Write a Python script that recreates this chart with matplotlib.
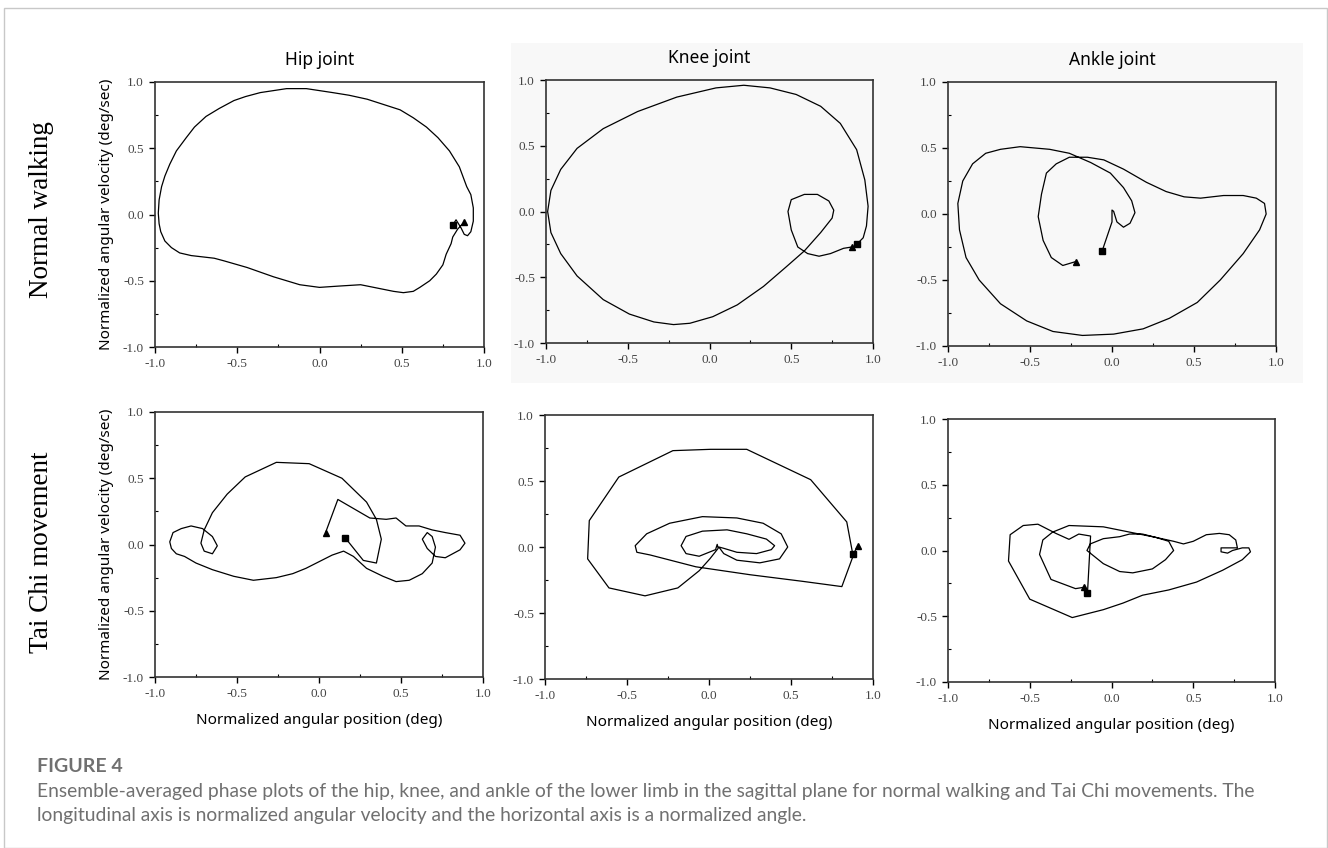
import matplotlib
matplotlib.use("Agg")
import matplotlib.pyplot as plt
from matplotlib.patches import Rectangle
from matplotlib.ticker import MultipleLocator

# Phase-plot traces (normalized angle, normalized angular velocity)
hip_walk_x = [0.81, 0.83, 0.86, 0.88, 0.90, 0.92, 0.935, 0.935, 0.92, 0.895, 0.85, 0.79, 0.72, 0.65, 0.57,
              0.49, 0.39, 0.29, 0.18, 0.08, -0.08, -0.20, -0.36, -0.45, -0.52, -0.61, -0.69, -0.76, -0.81,
              -0.87, -0.91, -0.94, -0.96, -0.975, -0.98, -0.975, -0.965, -0.94, -0.90, -0.85, -0.78, -0.71,
              -0.64, -0.58, -0.44, -0.28, -0.12, 0.0, 0.12, 0.25, 0.37, 0.45, 0.51, 0.57, 0.61, 0.67, 0.71, 0.75,
              0.77, 0.80, 0.81, 0.84, 0.87, 0.88]
hip_walk_y = [-0.08, -0.04, -0.10, -0.15, -0.16, -0.13, -0.05, 0.05, 0.15, 0.21, 0.36, 0.48, 0.58, 0.66, 0.73,
              0.79, 0.83, 0.87, 0.90, 0.92, 0.95, 0.95, 0.92, 0.89, 0.86, 0.80, 0.74, 0.66, 0.58,
              0.48, 0.38, 0.29, 0.21, 0.11, 0.01, -0.07, -0.13, -0.20, -0.25, -0.29, -0.31, -0.32,
              -0.33, -0.35, -0.40, -0.47, -0.53, -0.55, -0.54, -0.53, -0.56, -0.58, -0.59, -0.58, -0.55, -0.50, -0.45,
              -0.38, -0.30, -0.22, -0.17, -0.11, -0.07, -0.06]

knee_walk_x = [0.90, 0.94, 0.96, 0.97, 0.95, 0.90, 0.80, 0.68, 0.53, 0.37, 0.21, 0.04, -0.20, -0.44, -0.65,
               -0.81, -0.91, -0.97, -0.99, -0.97, -0.91, -0.81, -0.65, -0.49, -0.34, -0.22, -0.12, 0.02, 0.17,
               0.33, 0.47, 0.58, 0.68, 0.75, 0.76, 0.73, 0.66, 0.58, 0.50, 0.48, 0.50, 0.54, 0.60, 0.67, 0.74,
               0.82, 0.87]
knee_walk_y = [-0.25, -0.20, -0.11, 0.04, 0.24, 0.47, 0.67, 0.80, 0.89, 0.94, 0.96, 0.94, 0.87, 0.76, 0.63,
               0.48, 0.32, 0.16, 0.0, -0.16, -0.32, -0.49, -0.67, -0.78, -0.84, -0.86, -0.85, -0.80, -0.71,
               -0.57, -0.42, -0.30, -0.16, -0.05, 0.01, 0.08, 0.13, 0.13, 0.09, 0.0, -0.14, -0.27, -0.32, -0.34, -0.32,
               -0.28, -0.27]

ankle_walk_x = [-0.06, -0.03, 0.0, 0.0, 0.01, 0.03, 0.07, 0.11, 0.14, 0.12, 0.07, -0.01, -0.13, -0.26, -0.38,
                -0.56, -0.68, -0.77, -0.85, -0.91, -0.94, -0.93, -0.89, -0.81, -0.68, -0.52, -0.36, -0.18, 0.01,
                0.19, 0.35, 0.52, 0.66, 0.80, 0.90, 0.94, 0.93, 0.88, 0.80, 0.68, 0.54, 0.44, 0.33, 0.21, 0.07,
                -0.05, -0.15, -0.26, -0.34, -0.40, -0.43, -0.45, -0.42, -0.37, -0.30, -0.22]
ankle_walk_y = [-0.28, -0.17, -0.06, 0.03, 0.02, -0.06, -0.10, -0.07, 0.01, 0.10, 0.20, 0.31, 0.39, 0.46, 0.49,
                0.51, 0.49, 0.46, 0.38, 0.25, 0.08, -0.12, -0.33, -0.50, -0.68, -0.81, -0.89, -0.92, -0.91,
                -0.87, -0.79, -0.67, -0.50, -0.30, -0.12, 0.0, 0.08, 0.12, 0.14, 0.14, 0.12, 0.13, 0.17, 0.24, 0.34,
                0.41, 0.43, 0.43, 0.38, 0.31, 0.15, -0.02, -0.20, -0.33, -0.39, -0.36]

# Tai Chi hip: listed from the triangle end back to the square start
hip_tc_x = [0.04, 0.115, 0.31, 0.41, 0.47, 0.53, 0.61, 0.69, 0.77, 0.86, 0.89, 0.86, 0.77, 0.71, 0.66, 0.63,
            0.66, 0.69, 0.71, 0.69, 0.63, 0.55, 0.47, 0.39, 0.29, 0.21, 0.15, 0.08, 0.0, -0.08, -0.16, -0.26,
            -0.40, -0.52, -0.65, -0.75, -0.82, -0.87, -0.90, -0.91, -0.89, -0.84, -0.78, -0.71, -0.65, -0.62,
            -0.65, -0.70, -0.72, -0.70, -0.65, -0.56, -0.45, -0.26, -0.06, 0.14, 0.29, 0.35, 0.38, 0.35, 0.27,
            0.16]
hip_tc_y = [0.09, 0.34, 0.20, 0.19, 0.20, 0.14, 0.14, 0.11, 0.09, 0.07, 0.01, -0.04, -0.10, -0.09, -0.03, 0.04,
            0.09, 0.06, -0.02, -0.14, -0.22, -0.27, -0.28, -0.24, -0.18, -0.09, -0.05, -0.08, -0.13, -0.18, -0.22,
            -0.25, -0.27, -0.24, -0.19, -0.14, -0.09, -0.07, -0.03, 0.02, 0.09, 0.12, 0.14, 0.12, 0.06, -0.01,
            -0.07, -0.05, 0.01, 0.11, 0.24, 0.38, 0.51, 0.62, 0.61, 0.50, 0.32, 0.19, 0.04, -0.14, -0.12,
            0.05]
hip_tc_x = hip_tc_x[::-1]
hip_tc_y = hip_tc_y[::-1]

knee_tc_x = [0.876, 0.84, 0.62, 0.23, 0.01, -0.22, -0.55, -0.73, -0.74, -0.61, -0.39, -0.19, -0.06, 0.005,
             0.056, 0.05, 0.04, -0.06, -0.14, -0.17, -0.14, -0.04, 0.11, 0.23, 0.35, 0.40, 0.38, 0.29, 0.17,
             0.09, 0.06, 0.09, 0.17, 0.31, 0.43, 0.48, 0.44, 0.33, 0.17, -0.04, -0.24, -0.38, -0.45, -0.44, -0.36,
             -0.08, 0.25, 0.57, 0.81, 0.89, 0.91]
knee_tc_y = [-0.05, 0.19, 0.51, 0.74, 0.74, 0.73, 0.53, 0.20, -0.09, -0.31, -0.37, -0.31, -0.18, -0.09,
             -0.01, 0.02, -0.02, -0.07, -0.05, 0.01, 0.08, 0.12, 0.13, 0.10, 0.06, 0.01, -0.02, -0.05, -0.04,
             -0.01, 0.0, -0.05, -0.10, -0.12, -0.09, 0.0, 0.10, 0.18, 0.22, 0.23, 0.18, 0.10, 0.01, -0.04, -0.06,
             -0.15, -0.21, -0.26, -0.30, -0.03, 0.01]

ankle_tc_x = [-0.147, -0.128, -0.20, -0.26, -0.34, -0.45, -0.54, -0.62, -0.63, -0.50, -0.24, -0.05, 0.07, 0.19,
              0.35, 0.52, 0.68, 0.80, 0.85, 0.84, 0.80, 0.74, 0.71, 0.67, 0.67, 0.72, 0.77, 0.76, 0.72, 0.66,
              0.58, 0.50, 0.44, 0.38, 0.27, 0.19, 0.11, 0.05, -0.05, -0.13, -0.15, -0.13, -0.05, 0.05, 0.13, 0.25,
              0.33, 0.38, 0.35, 0.27, 0.11, -0.05, -0.26, -0.36, -0.42, -0.44, -0.37, -0.22, -0.17]
ankle_tc_y = [-0.326, 0.11, 0.125, 0.085, 0.13, 0.20, 0.19, 0.12, -0.08, -0.37, -0.51, -0.45, -0.40, -0.34,
              -0.30, -0.24, -0.15, -0.07, -0.01, 0.02, 0.02, 0.0, -0.02, -0.01, 0.02, 0.02, 0.02, 0.08, 0.12, 0.13,
              0.12, 0.07, 0.05, 0.07, 0.10, 0.125, 0.125, 0.105, 0.09, 0.05, 0.0, -0.02, -0.10, -0.16, -0.17, -0.14,
              -0.07, 0.0, 0.07, 0.10, 0.14, 0.18, 0.19, 0.14, 0.08, -0.03, -0.22, -0.29, -0.28]

traces = [
    [(hip_walk_x, hip_walk_y), (knee_walk_x, knee_walk_y), (ankle_walk_x, ankle_walk_y)],
    [(hip_tc_x, hip_tc_y), (knee_tc_x, knee_tc_y), (ankle_tc_x, ankle_tc_y)],
]
col_titles = ["Hip joint", "Knee joint", "Ankle joint"]
row_titles = ["Normal walking", "Tai Chi movement"]
tick_vals = [-1.0, -0.5, 0.0, 0.5, 1.0]
tick_labels = ["-1.0", "-0.5", "0.0", "0.5", "1.0"]

W, H = 1328, 848
# axes boxes in pixels: left, top, right, bottom
boxes = [
    [(155, 82, 484, 347), (546, 80, 873, 343), (948, 82, 1276, 346)],
    [(155, 412, 483, 677), (545, 415, 873, 679), (948, 419, 1275, 682)],
]

fig = plt.figure(figsize=(W / 100, H / 100), dpi=100)
fig.patch.set_facecolor("white")

# outer frame and light grey panel behind knee/ankle plots
fig.add_artist(Rectangle((4 / W, 0), 1323 / W, 1 - 8 / H, transform=fig.transFigure,
                         facecolor="none", edgecolor="#c8c8c8", lw=1.0))
fig.add_artist(Rectangle((511 / W, 1 - 383 / H), 792 / W, 340 / H, transform=fig.transFigure,
                         facecolor="#f8f8f8", edgecolor="none", zorder=0))

sans = ["Noto Sans", "DejaVu Sans"]
serif = ["Liberation Serif", "DejaVu Serif"]

for r in range(2):
    for c in range(3):
        l, t, rt, b = boxes[r][c]
        ax = fig.add_axes([l / W, 1 - b / H, (rt - l) / W, (b - t) / H])
        ax.set_facecolor("#f8f8f8" if (r == 0 and c > 0) else "white")
        xs, ys = traces[r][c]
        ax.plot(xs, ys, color="black", lw=0.9)
        ax.plot(xs[0], ys[0], marker="s", color="black", ms=4.5)
        ax.plot(xs[-1], ys[-1], marker="^", color="black", ms=5)
        ax.set_xlim(-1, 1)
        ax.set_ylim(-1, 1)
        ax.set_xticks(tick_vals)
        ax.set_yticks(tick_vals)
        ax.set_xticklabels(tick_labels, family=serif, fontsize=9.5, color="#444444")
        ax.set_yticklabels(tick_labels, family=serif, fontsize=9.5, color="#444444")
        ax.xaxis.set_minor_locator(MultipleLocator(0.25))
        ax.yaxis.set_minor_locator(MultipleLocator(0.25))
        ax.tick_params(which="major", direction="out", length=4, width=1.0, pad=4)
        ax.tick_params(which="minor", direction="in", length=2.5, width=0.8)
        for sp in ax.spines.values():
            sp.set_linewidth(1.2)
            sp.set_color("#333333")
        if r == 0:
            ax.set_title(col_titles[c], family=sans, fontsize=12.5, pad=12)
        else:
            ax.set_xlabel("Normalized angular position (deg)", family=sans, fontsize=11, labelpad=9)
        if c == 0:
            ax.set_ylabel("Normalized angular velocity (deg/sec)", family=sans, fontsize=11, labelpad=6)

fig.text(42 / W, 1 - 210 / H, row_titles[0], rotation=90, ha="center", va="center",
         family=serif, fontsize=19.5)
fig.text(42 / W, 1 - 552 / H, row_titles[1], rotation=90, ha="center", va="center",
         family=serif, fontsize=19.5)

fig.text(37 / W, 1 - 767 / H, "FIGURE 4", ha="left", va="center", family=["Lato", "DejaVu Sans"],
         fontsize=14, fontweight="bold", color="#707070")
fig.text(37 / W, 1 - 792 / H,
         "Ensemble-averaged phase plots of the hip, knee, and ankle of the lower limb in the sagittal plane "
         "for normal walking and Tai Chi movements. The",
         ha="left", va="center", family=["Lato", "DejaVu Sans"], fontsize=13.9, color="#707070")
fig.text(37 / W, 1 - 816 / H,
         "longitudinal axis is normalized angular velocity and the horizontal axis is a normalized angle.",
         ha="left", va="center", family=["Lato", "DejaVu Sans"], fontsize=13.9, color="#707070")

fig.savefig("out.png", dpi=100)
